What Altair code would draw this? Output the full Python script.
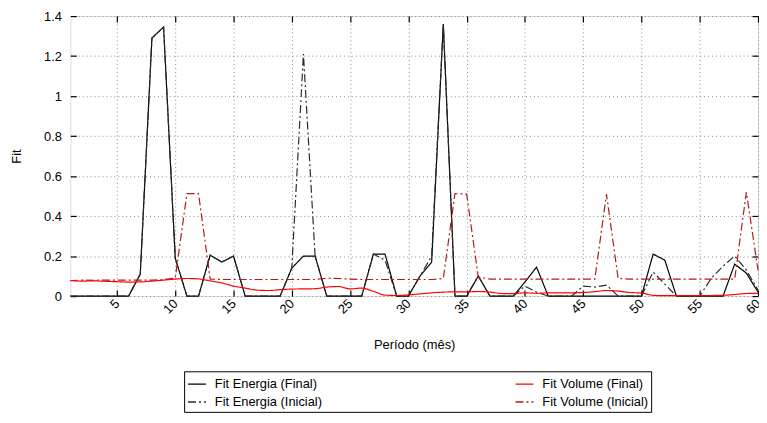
import altair as alt
import pandas as pd

periodo = list(range(1, 61))

energia_final = [0, 0, 0, 0, 0, 0, 0.11, 1.29, 1.345, 0.19,
                 0, 0, 0.205, 0.17, 0.2, 0, 0, 0, 0, 0.14,
                 0.2, 0.2, 0, 0, 0, 0, 0.21, 0.21, 0, 0,
                 0.1, 0.17, 1.36, 0, 0, 0.1, 0, 0, 0, 0.07,
                 0.145, 0, 0, 0, 0, 0, 0, 0, 0, 0,
                 0.21, 0.18, 0, 0, 0, 0, 0, 0.16, 0.115, 0.02]

energia_inicial = [0, 0, 0, 0, 0, 0, 0.11, 1.29, 1.345, 0.19,
                   0, 0, 0.205, 0.17, 0.2, 0, 0, 0, 0, 0.14,
                   1.21, 0.2, 0, 0, 0, 0, 0.21, 0.18, 0, 0,
                   0.1, 0.2, 1.36, 0, 0, 0.1, 0, 0, 0, 0.05,
                   0.02, 0, 0, 0, 0.05, 0.045, 0.055, 0, 0, 0,
                   0.12, 0.06, 0, 0, 0, 0.09, 0.15, 0.2, 0.13, 0.03]

volume_final = [0.078, 0.075, 0.076, 0.074, 0.072, 0.07, 0.071, 0.075, 0.08, 0.085,
                0.088, 0.086, 0.076, 0.066, 0.05, 0.04, 0.03, 0.028, 0.032, 0.035,
                0.036, 0.037, 0.045, 0.048, 0.036, 0.04, 0.024, 0.005, 0.003, 0.006,
                0.011, 0.016, 0.02, 0.021, 0.021, 0.023, 0.02, 0.013, 0.012, 0.016,
                0.014, 0.016, 0.016, 0.016, 0.018, 0.022, 0.028, 0.025, 0.018, 0.015,
                0.004, 0.002, 0.002, 0.002, 0.002, 0.003, 0.004, 0.008, 0.013, 0.014]

volume_inicial = [0.078, 0.08, 0.079, 0.08, 0.08, 0.08, 0.08, 0.08, 0.082, 0.09,
                  0.512, 0.512, 0.085, 0.083, 0.083, 0.083, 0.083, 0.083, 0.083, 0.083,
                  0.083, 0.083, 0.09, 0.088, 0.085, 0.083, 0.083, 0.083, 0.083, 0.083,
                  0.083, 0.083, 0.088, 0.512, 0.51, 0.095, 0.085, 0.085, 0.085, 0.085,
                  0.085, 0.085, 0.085, 0.085, 0.085, 0.085, 0.51, 0.088, 0.085, 0.085,
                  0.085, 0.085, 0.085, 0.085, 0.085, 0.085, 0.085, 0.085, 0.52, 0.13]

x_ticks = [5, 10, 15, 20, 25, 30, 35, 40, 45, 50, 55, 60]
y_ticks = [0, 0.2, 0.4, 0.6, 0.8, 1.0, 1.2, 1.4]

# legend lays entries out column by column: first column = Energia, second = Volume
series_names = ["Fit Energia (Final)", "Fit Energia (Inicial)",
                "Fit Volume (Final)", "Fit Volume (Inicial)"]
series_colors = ["#000000", "#2a2a2a", "#ff0000", "#b41a1a"]
series_dashes = [[1, 0], [8, 3, 2, 3], [1, 0], [8, 3, 2, 3]]

rows = []
for name, vals in zip(series_names, [energia_final, energia_inicial, volume_final, volume_inicial]):
    for x, v in zip(periodo, vals):
        rows.append({"periodo": x, "fit": v, "serie": name})
df = pd.DataFrame(rows)

FONT = "Liberation Sans"
W, H = 695, 283

xscale = alt.Scale(domain=[1, 60], nice=False, zero=False)
yscale = alt.Scale(domain=[0, 1.4], nice=False, zero=True)

legend = alt.Legend(
    title=None, orient="none", legendX=115, legendY=359, columns=2,
    symbolType="stroke", symbolSize=324, symbolStrokeWidth=1.4,
    labelFont=FONT, labelFontSize=13, labelColor="#000",
    strokeColor="#000", padding=3, columnPadding=192, rowPadding=1,
    labelOffset=8, labelLimit=300,
)
color = alt.Color("serie:N", scale=alt.Scale(domain=series_names, range=series_colors), legend=legend)
dash = alt.StrokeDash("serie:N", scale=alt.Scale(domain=series_names, range=series_dashes), legend=legend)

x_main = alt.X("periodo:Q", scale=xscale, title="Período (mês)",
               axis=alt.Axis(values=x_ticks, labelAngle=-45, labelAlign="right", labelBaseline="middle",
                             labelPadding=5, ticks=False, domain=False, grid=True,
                             gridDash=[1, 3], gridColor="#888", gridWidth=1,
                             labelFont=FONT, labelFontSize=13, labelColor="#000",
                             titleFont=FONT, titleFontSize=13, titleFontWeight="normal", titleColor="#000",
                             titleY=49, titleBaseline="middle"))
y_main = alt.Y("fit:Q", scale=yscale, title="Fit",
               axis=alt.Axis(values=y_ticks, format="~g", ticks=False, domain=False, grid=True,
                             gridDash=[1, 3], gridColor="#888", gridWidth=1, labelPadding=9,
                             labelFont=FONT, labelFontSize=13, labelColor="#000",
                             titleFont=FONT, titleFontSize=13, titleFontWeight="normal", titleColor="#000",
                             titleX=-54, titleY=H / 2, titleBaseline="middle"))

lines_linear = alt.Chart(df).transform_filter(
    alt.datum.serie != "Fit Volume (Final)"
).mark_line(strokeWidth=1.2, interpolate="linear").encode(
    x=x_main, y=y_main, color=color, strokeDash=dash, detail="serie:N"
)
lines_smooth = alt.Chart(df).transform_filter(
    alt.datum.serie == "Fit Volume (Final)"
).mark_line(strokeWidth=1.2, interpolate="monotone").encode(
    x=alt.X("periodo:Q", scale=xscale, axis=None), y=alt.Y("fit:Q", scale=yscale, axis=None),
    color=color, strokeDash=dash
)


def tick_axis(orient, values):
    return alt.Axis(orient=orient, offset=-6, tickSize=6, tickColor="#000", tickWidth=1.2,
                    labels=False, domain=False, grid=False, title=None, values=values)


ticks_bl = alt.Chart(df).mark_point(opacity=0).encode(
    x=alt.X("periodo:Q", scale=xscale, axis=tick_axis("bottom", x_ticks)),
    y=alt.Y("fit:Q", scale=yscale, axis=tick_axis("left", y_ticks)),
)
ticks_tr = alt.Chart(df).mark_point(opacity=0).encode(
    x=alt.X("periodo:Q", scale=xscale, axis=tick_axis("top", x_ticks)),
    y=alt.Y("fit:Q", scale=yscale, axis=tick_axis("right", y_ticks)),
)

chart = alt.layer(lines_linear, lines_smooth, ticks_bl, ticks_tr).resolve_axis(
    x="independent", y="independent"
).properties(
    width=W, height=H,
    autosize=alt.AutoSizeParams(type="none"),
    padding={"left": 63, "top": 6, "right": 1, "bottom": 117},
).configure_view(stroke="#000", strokeWidth=1.5).configure(background="white")

chart.save("out.html", embed_options={"renderer": "svg", "actions": False})
